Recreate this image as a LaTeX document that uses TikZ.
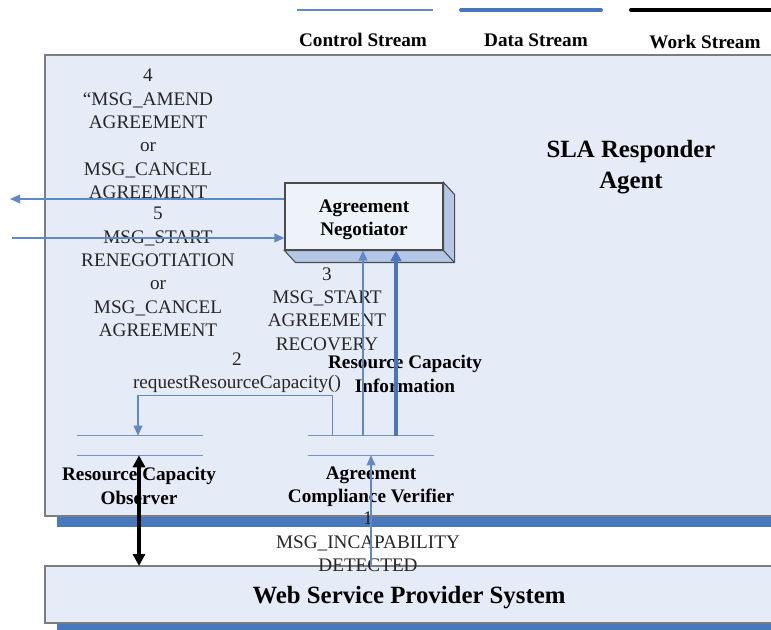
\documentclass[tikz,border=0pt]{standalone}
\usepackage{fontspec}
\setmainfont{Liberation Serif}
\usetikzlibrary{arrows.meta,positioning,calc}
\definecolor{agentfill}{RGB}{230,236,247}
\definecolor{shadowblue}{RGB}{72,121,191}
\definecolor{ctrlblue}{RGB}{95,137,199}
\definecolor{datablue}{RGB}{72,117,190}
\definecolor{framegray}{RGB}{125,125,125}
\definecolor{sideblue}{RGB}{180,199,231}
\definecolor{facefill}{RGB}{238,242,249}
\tikzset{
  ctrl/.style={ctrlblue, line width=1.1pt},
  data/.style={datablue, line width=3pt},
  work/.style={black, line width=3pt},
  ctrltip/.style={-{Triangle[length=7.5pt,width=6.5pt]}},
  datatip/.style={-{Triangle[length=8pt,width=8pt]}},
  worktip/.style={{Triangle[length=9pt,width=9pt]}-{Triangle[length=9pt,width=9pt]}},
  msg/.style={align=center, inner sep=0pt, text=black!85, font=\fontsize{14.4}{17.5}\selectfont},
  lbl/.style={align=center, inner sep=0pt, font=\fontsize{14.4}{17.5}\selectfont\bfseries},
  title/.style={align=center, inner sep=0pt, font=\fontsize{18.6}{23}\selectfont\bfseries},
  agentbox/.style={fill=agentfill, draw=framegray, line width=0.8pt},
  shadowbar/.style={fill=shadowblue},
  negbox/.style={draw=black!70, fill=facefill, line width=0.8pt, minimum width=118.5pt, minimum height=50.25pt},
  sideface/.style={draw=black!70, fill=sideblue, line width=0.8pt},
  storebox/.style={minimum width=94.5pt, minimum height=14.25pt, inner sep=0pt},
  storeline/.style={ctrlblue!90, line width=0.9pt}
}
\begin{document}
\begin{tikzpicture}[x=0.75pt,y=-0.75pt]
                \useasboundingbox (0,0) rectangle (771,630);
                \path (10,199) coordinate (out4);
                \path (12,238) coordinate (in5);
                \path[shadowbar] (57,66) rectangle (790,527);
                \path[agentbox] (45,55) rectangle (780,516);
                \path[shadowbar] (57,577) rectangle (790,634);
                \path[agentbox] (45,566) rectangle (780,623);
                \path (409,598) node[title] (wsp) {Web Service Provider System};
                \path (45,566) coordinate (wspnw);
                \path (631,167) node[title] (sla) {SLA Responder\\Agent};
                \draw[ctrl] (297,10) -- (433,10);
                \draw[data, line cap=round] (461,10) -- (601,10);
                \draw[work, line cap=round] (631,10) -- (771,10);
                \path (363,40) node[lbl] (lctrl) {Control Stream};
                \path (536,40) node[lbl] (ldata) {Data Stream};
                \path (705,42) node[lbl] (lwork) {Work Stream};
                \path (364,216.5) node[negbox] (neg) {};
                \filldraw[sideface] (neg.north east) -- ++(11,12) -- ([shift={(11,12)}]neg.south east)
                  -- ([shift={(11,12)}]neg.south west) -- (neg.south west) -- (neg.south east) -- cycle;
                \draw[sideface] (neg.south east) -- ++(11,12);
                \path ([shift={(0,3)}]neg.center) node[lbl] (negtxt) {Agreement\\Negotiator};
                \path (140,445.5) node[storebox] (rco) {};
                \path (371,445.5) node[storebox] (acv) {};
                \draw[storeline] (rco.north west) -- (rco.north east) (rco.south west) -- (rco.south east);
                \draw[storeline] (acv.north west) -- (acv.north east) (acv.south west) -- (acv.south east);
                \path (139,486) node[lbl] (rcotxt) {Resource Capacity\\Observer};
                \path (371,486.5) node[lbl] (acvtxt) {Agreement\\Compliance Verifier};
                \path (148,134) node[msg] (m4) {4\\“MSG\_AMEND\\AGREEMENT\\or\\MSG\_CANCEL\\AGREEMENT};
                \path (158,272) node[msg] (m5) {5\\MSG\_START\\RENEGOTIATION\\or\\MSG\_CANCEL\\AGREEMENT};
                \path (327,309) node[msg] (m3) {3\\MSG\_START\\AGREEMENT\\RECOVERY};
                \path (237,373) node[msg] (m2) {2\\requestResourceCapacity()};
                \path (368,542) node[msg] (m1) {1\\MSG\_INCAPABILITY\\DETECTED};
                \path (405,374) node[lbl] (rci) {Resource Capacity\\Information};
                \draw[ctrl, ctrltip] (neg.west |- out4) -- (out4);
                \draw[ctrl, ctrltip] (in5) -- (neg.west |- in5);
                \draw[ctrl, ctrltip] ([xshift=-0.75pt]neg.south |- acv.north) -- ([xshift=-0.75pt]neg.south);
                \draw[data, datatip] ([xshift=24pt]neg.south |- acv.north) -- ([xshift=24pt]neg.south);
                \draw[ctrl, ctrltip] ([xshift=-29pt]acv.north) -- ++(0,-40) -| ([xshift=-1.5pt]rco.north);
                \draw[ctrl, ctrltip] (acv.south |- wspnw) -- (acv.south);
                \draw[work, worktip] ([xshift=-0.75pt]rco.south) -- ([xshift=-0.75pt]rco.south |- wspnw);
              \end{tikzpicture}
\end{document}
